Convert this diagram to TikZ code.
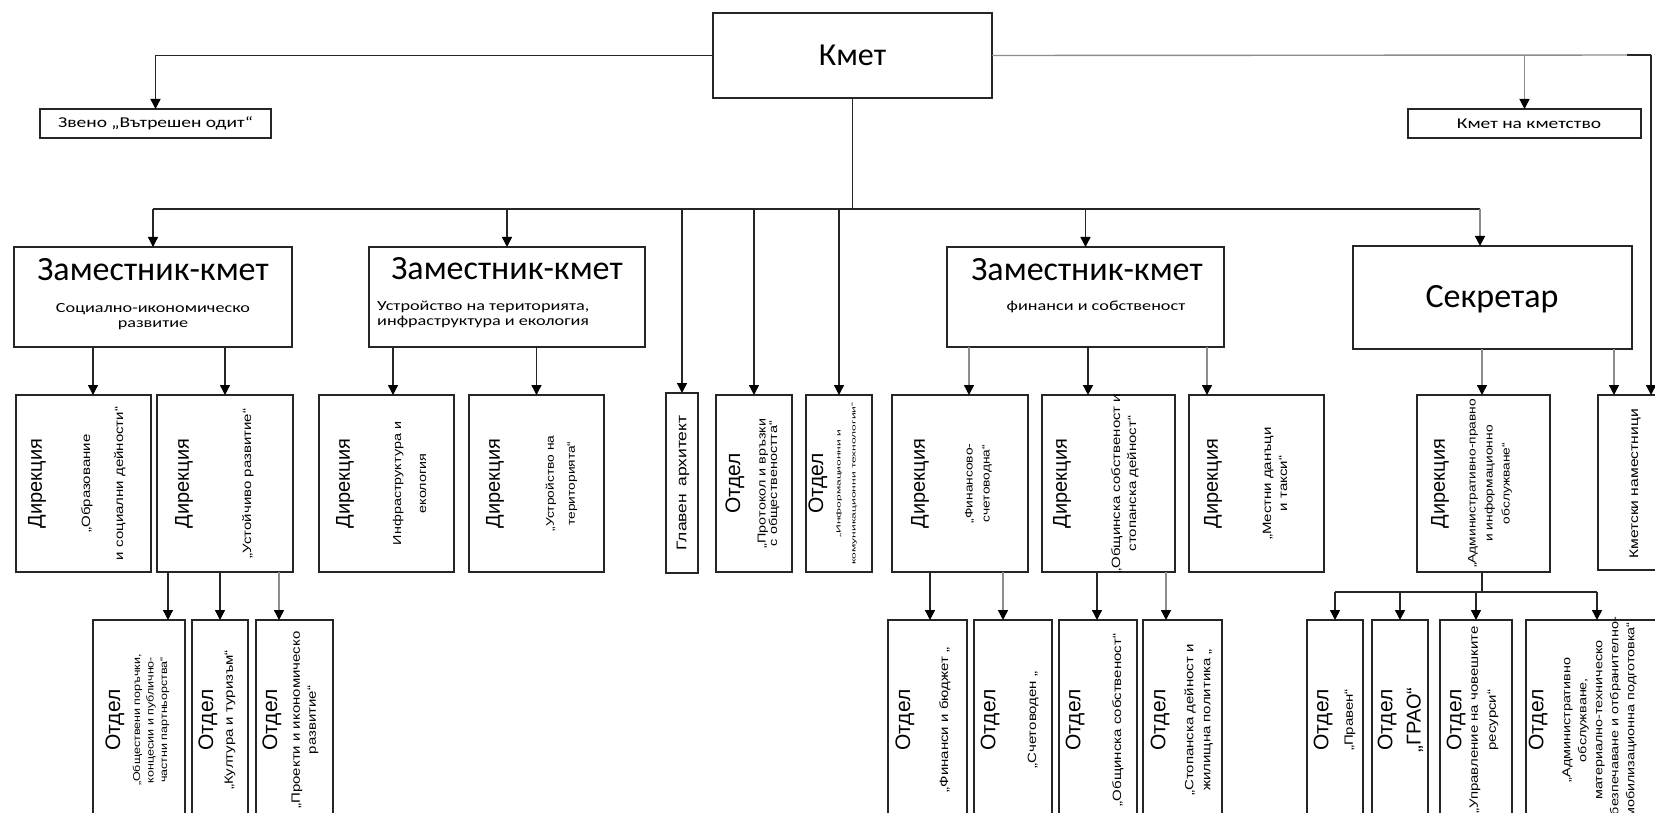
\documentclass[tikz,border=0pt]{standalone}
\usepackage{fontspec}
\setmainfont{Liberation Sans}
\newfontfamily\fHead{Carlito}
\newfontfamily\fHsub[FakeStretch=1.3]{Carlito}
\newfontfamily\fRt{Liberation Sans}
\newfontfamily\fRs[FakeStretch=1.25]{Liberation Sans}
\newfontfamily\fRw[FakeStretch=2]{Liberation Sans}
\usetikzlibrary{arrows.meta}
\newcommand{\bx}[5]{\node[box, minimum width={(#4-#2)*1pt}, minimum height={(#5-#3)*1pt}] (#1) at ({(#2+#4)/2},{(#3+#5)/2}) {};}
\tikzset{
  box/.style={draw=black!85, line width=1.6pt, inner sep=0pt, outer sep=0pt},
  conn/.style={draw=black!85, line width=1.4pt},
  gconn/.style={draw=black!45, line width=1.4pt},
  arr/.style={conn, -{Triangle[length=10pt,width=10pt,color=black]}},
  garr/.style={gconn, -{Triangle[length=10pt,width=10pt,color=black]}},
  head/.style={font=\fHead\fontsize{34}{38}\selectfont, inner sep=0pt},
  hsub/.style={font=\fHsub\fontsize{14}{15}\selectfont, inner sep=0pt, align=center},
  rot/.style={rotate=90, inner sep=0pt, align=center},
  dtitle/.style={rot, font=\fRt\fontsize{20}{24}\selectfont},
  otitle/.style={rot, font=\fRt\fontsize{21}{24}\selectfont},
}
\begin{document}
\begin{tikzpicture}[x=1pt,y=-1pt]
\useasboundingbox (0,0) rectangle (1655,813);
\clip (0,0) rectangle (1655,813);
% ---------- boxes
\bx{kmet}{713}{13}{992}{98}
\bx{audit}{40}{109}{271}{138}
\bx{kms}{1408}{109}{1641}{138}
\bx{z1}{14}{247}{292}{347}
\bx{z2}{369}{247}{645}{347}
\bx{z3}{947}{247}{1224}{347}
\bx{sek}{1353}{246}{1632}{349}
\bx{d1}{16}{395}{151}{572}
\bx{d2}{157}{395}{293}{572}
\bx{d3}{319}{395}{454}{572}
\bx{d4}{469}{395}{604}{572}
\bx{ga}{666}{393}{698}{573}
\bx{op}{716}{395}{792}{572}
\bx{oi}{806}{395}{872}{572}
\bx{df}{892}{395}{1028}{572}
\bx{dob}{1042}{395}{1175}{572}
\bx{dm}{1189}{395}{1324}{572}
\bx{da}{1417}{395}{1550}{572}
\bx{km}{1598}{395}{1672}{570}
\bx{o1}{93}{620}{185}{822}
\bx{o2}{192}{620}{248}{822}
\bx{o3}{256}{620}{333}{822}
\bx{o4}{888}{620}{967}{822}
\bx{o5}{974}{620}{1052}{822}
\bx{o6}{1059}{620}{1137}{822}
\bx{o7}{1143}{620}{1222}{822}
\bx{o8}{1307}{620}{1363}{822}
\bx{o9}{1372}{620}{1428}{822}
\bx{o10}{1440}{620}{1512}{822}
\bx{o11}{1526}{620}{1665}{822}
% ---------- connectors
\coordinate (rc) at (1651,55);
\coordinate (bus) at (0,209);
\coordinate (bus2) at (0,592);
\draw[arr] (kmet.west) -| (audit.north);
\draw[gconn] (kmet.east) -- (rc);
\draw[conn] ([xshift=-24pt]rc) -- (rc);
\draw[arr] (rc) -- (rc |- km.north);
\draw[garr] (kmet.east -| kms.north) -- (kms.north);
\draw[conn] (kmet.south) -- (kmet.south |- bus);
\draw[conn] (bus -| z1.north) -- (bus -| 1480,0);
\draw[arr] (bus -| z1.north) -- (z1.north);
\draw[arr] (bus -| z2.north) -- (z2.north);
\draw[arr] (bus -| ga.north) -- (ga.north);
\draw[arr] (bus -| op.north) -- (op.north);
\draw[arr] (bus -| oi.north) -- (oi.north);
\draw[arr] (bus -| z3.north) -- (z3.north);
\draw[garr] (bus -| 1480,0) -- (sek.north -| 1480,0);
% level 1 -> level 2
\draw[arr] (z1.south -| 93,0) -- (d1.north -| 93,0);
\draw[arr] (z1.south -| d2.north) -- (d2.north);
\draw[arr] (z2.south -| 393,0) -- (d3.north -| 393,0);
\draw[arr] (z2.south -| d4.north) -- (d4.north);
\draw[garr] (z3.south -| 969,0) -- (df.north -| 969,0);
\draw[arr] (z3.south -| 1088,0) -- (dob.north -| 1088,0);
\draw[garr] (z3.south -| 1207,0) -- (dm.north -| 1207,0);
\draw[garr] (sek.south -| 1482,0) -- (da.north -| 1482,0);
\draw[garr] (sek.south -| 1614,0) -- (km.north -| 1614,0);
% level 2 -> level 3
\draw[arr] (d2.south -| 168,0) -- (o1.north -| 168,0);
\draw[arr] (d2.south -| o2.north) -- (o2.north);
\draw[garr] (d2.south -| 279,0) -- (o3.north -| 279,0);
\draw[arr] (df.south -| 930,0) -- (o4.north -| 930,0);
\draw[garr] (df.south -| 1003,0) -- (o5.north -| 1003,0);
\draw[arr] (dob.south -| 1097,0) -- (o6.north -| 1097,0);
\draw[garr] (dob.south -| 1166,0) -- (o7.north -| 1166,0);
\draw[conn] (da.south -| 1482,0) -- (bus2 -| 1482,0);
\draw[conn] (bus2 -| o8.north) -- (bus2 -| 1597,0);
\draw[arr] (bus2 -| o8.north) -- (o8.north);
\draw[arr] (bus2 -| o9.north) -- (o9.north);
\draw[arr] (bus2 -| o10.north) -- (o10.north);
\draw[arr] (bus2 -| 1597,0) -- (o11.north -| 1597,0);
% ---------- texts, top
\node[head, font=\fHead\fontsize{32}{36}\selectfont] (kmett) at (kmet.center) {Кмет};
\node[hsub, font=\fHsub\fontsize{15}{16}\selectfont] (auditt) at (audit.center) {Звено „Вътрешен одит“};
\node[font=\fHsub\fontsize{15}{16}\selectfont, inner sep=0pt] (kmst) at (1529,124) {Кмет на кметство};
\node[head] (z1t) at (153,270) {Заместник-кмет};
\node[hsub] (z1s) at (153,317) {Социално-икономическо\\развитие};
\node[head] (z2t) at (507,269) {Заместник-кмет};
\node[hsub, align=left, anchor=west] (z2s) at (377,314) {Устройство на територията,\\инфраструктура и екология};
\node[head] (z3t) at (1087,270) {Заместник-кмет};
\node[hsub] (z3s) at (1096,307) {финанси и собственост};
\node[head] (sekt) at (1492,299) {Секретар};
% ---------- level 2 texts
\node[dtitle] (d1t) at (37,483.5) {Дирекция};
\node[rot, font=\fRs\fontsize{12}{33}\selectfont] (d1s) at (103.5,483.5) {„Образование\\и социални дейности“};
\node[dtitle] (d2t) at (184,483.5) {Дирекция};
\node[rot, font=\fRs\fontsize{12}{14}\selectfont] (d2s) at (248,483.5) {„Устойчиво развитие“};
\node[dtitle] (d3t) at (345,483.5) {Дирекция};
\node[rot, font=\fRs\fontsize{11.5}{25}\selectfont] (d3s) at (409.5,483.5) {Инфраструктура и\\екология};
\node[dtitle] (d4t) at (495,483.5) {Дирекция};
\node[rot, font=\fRs\fontsize{11}{21}\selectfont] (d4s) at (561.5,483.5) {„Устройство на\\територията“};
\node[rot, font=\fRs\fontsize{14}{16}\selectfont] (gat) at (683,483) {Главен\hspace{0.5em}архитект};
\node[otitle] (opt) at (735,483.5) {Отдел};
\node[rot, font=\fRs\fontsize{11.5}{11.5}\selectfont] (ops) at (768.5,483.5) {„Протокол и връзки\\с обществеността“};
\node[otitle] (oit) at (818,483.5) {Отдел};
\node[rot, font=\fRw\fontsize{6}{15}\selectfont] (ois) at (846.5,483.5) {„Информационни и\\комуникационни технологии“};
\node[dtitle] (dft) at (920,483.5) {Дирекция};
\node[rot, font=\fRs\fontsize{11}{17}\selectfont] (dfs) at (978.5,483.5) {„Финансово-\\счетоводна“};
\node[dtitle] (dobt) at (1062,483.5) {Дирекция};
\node[rot, font=\fRs\fontsize{12}{16}\selectfont] (dobs) at (1125,483.5) {„Общинска собственост и\\стопанска дейност“};
\node[dtitle] (dmt) at (1213,483.5) {Дирекция};
\node[rot, font=\fRs\fontsize{12}{16}\selectfont] (dms) at (1275,483.5) {„Местни данъци\\и такси“};
\node[dtitle] (dat) at (1440,483.5) {Дирекция};
\node[rot, font=\fRs\fontsize{11}{17}\selectfont] (das) at (1490,483.5) {„Административно-правно\\и информационно\\обслужване“};
\node[rot, font=\fRs\fontsize{12.5}{14}\selectfont] (kmt) at (1635,484) {Кметски наместници};
% ---------- level 3 texts
\node[otitle] (o1t) at (115,720) {Отдел};
\node[rot, font=\fRs\fontsize{10}{13.5}\selectfont] (o1s) at (151,720) {„Обществени поръчки,\\концесии и публично-\\частни партньорства“};
\node[otitle] (o2t) at (208,720) {Отдел};
\node[rot, font=\fRs\fontsize{12}{14}\selectfont] (o2s) at (230,720) {„Култура и туризъм“};
\node[otitle] (o3t) at (272,720) {Отдел};
\node[rot, font=\fRs\fontsize{12}{16}\selectfont] (o3s) at (305,720) {„Проекти и икономическо\\развитие“};
\node[otitle] (o4t) at (905,720) {Отдел};
\node[rot, font=\fRs\fontsize{12}{14}\selectfont] (o4s) at (945,720) {„Финанси и бюджет „};
\node[otitle] (o5t) at (990,720) {Отдел};
\node[rot, font=\fRs\fontsize{12}{14}\selectfont] (o5s) at (1033,720) {„Счетоводен „};
\node[otitle] (o6t) at (1075,720) {Отдел};
\node[rot, font=\fRs\fontsize{12}{14}\selectfont] (o6s) at (1118,720) {„Общинска собственост“};
\node[otitle] (o7t) at (1160,720) {Отдел};
\node[rot, font=\fRs\fontsize{12}{17}\selectfont] (o7s) at (1198.5,720) {„Стопанска дейност и\\жилищна политика „};
\node[otitle] (o8t) at (1323,720) {Отдел};
\node[rot, font=\fRs\fontsize{12}{14}\selectfont] (o8s) at (1350,720) {„Правен“};
\node[otitle] (o9t) at (1387,720) {Отдел};
\node[rot, font=\fRt\fontsize{20}{22}\selectfont] (o9s) at (1415,720) {„ГРАО“};
\node[otitle] (o10t) at (1456,720) {Отдел};
\node[rot, font=\fRs\fontsize{12}{18}\selectfont] (o10s) at (1484,720) {„Управление на човешките\\ресурси“};
\node[otitle] (o11t) at (1538,720) {Отдел};
\node[rot, font=\fRs\fontsize{11.5}{16}\selectfont] (o11s) at (1599.5,720) {„Административно\\обслужване,\\материално-техническо\\обезпечаване и отбранително-\\мобилизационна подготовка“};
\end{tikzpicture}
\end{document}
